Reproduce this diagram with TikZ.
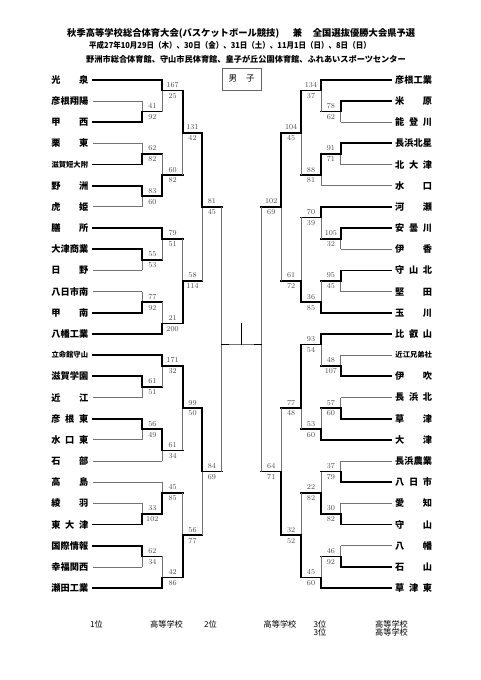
\documentclass[tikz,border=0pt]{standalone}
\usepackage{fontspec}
\newfontfamily\jp{Noto Sans CJK JP}
\newcommand\LA{142.3}\newcommand\LB{162.3}\newcommand\LC{182.8}\newcommand\LD{202.2}\newcommand\LE{221.7}
\newcommand\RA{340.8}\newcommand\RB{321.0}\newcommand\RC{301.0}\newcommand\RD{281.2}\newcommand\RE{261.3}
\newcommand\smallname{\fontsize{7.3}{8}\selectfont}
% match: 1 name, 2 xin, 3 xout, 4 ru, 5 rl, 6 ro, 7 su, 8 sl, 9 winner u/l
\newcommand\mt[9]{%
  \if#9u\def\mtU{thk}\def\mtL{thn}\else\def\mtU{thn}\def\mtL{thk}\fi
  \draw[\mtU] ({#2},{yy(#4)}) -- ({#2},{yy(#6)});
  \draw[\mtL] ({#2},{yy(#6)}) -- ({#2},{yy(#5)});
  \draw[thk] ({#2},{yy(#6)}) -- ({#3},{yy(#6)});
  \node[sc] (#1u) at ({(#2+#3)/2},{yy(#6)-5.5}) {#7};
  \node[sc] (#1l) at ({(#2+#3)/2},{yy(#6)+5.4}) {#8};
}
\newcommand\tmL[5]{%
  \node[nmL] (#1) at (88.5,{yy(#2)}) {\makebox[37pt]{#5}};
  \draw[#4] (93,{yy(#2)}) -- ({#3},{yy(#2)});
}
\newcommand\tmR[5]{%
  \node[nmR] (#1) at (395,{yy(#2)}) {\makebox[37pt]{#5}};
  \draw[#4] (391.5,{yy(#2)}) -- ({#3},{yy(#2)});
}
\begin{document}
\begin{tikzpicture}[x=1pt,y=-1pt,
  declare function={yy(\q)=79.8+21.18*\q;},
  thk/.style={line width=1.7pt,black,line cap=rect},
  thn/.style={line width=0.8pt,black!55},
  sc/.style={inner sep=0pt,text=black!70,font=\fontsize{7.6}{8}\selectfont},
  nmL/.style={anchor=east,inner sep=0pt,font=\jp\bfseries\fontsize{9.2}{10}\selectfont},
  nmR/.style={anchor=west,inner sep=0pt,font=\jp\bfseries\fontsize{9.2}{10}\selectfont},
  hd/.style={inner sep=0pt,font=\jp\bfseries},
  ft/.style={inner sep=0pt,font=\jp\fontsize{8.2}{9}\selectfont},
]
\fill[white] (0,0) rectangle (481,680);
\useasboundingbox (0,0) rectangle (481,680);

% header
\node[hd,anchor=west] (title1) at (67,33) {\fontsize{9.3}{10}\selectfont 秋季高等学校総合体育大会(バスケットボール競技)};
\node[hd] (title2) at (297.5,33) {\fontsize{9.3}{10}\selectfont 兼};
\node[hd,anchor=west] (title3) at (312.7,33) {\fontsize{9.3}{10}\selectfont 全国選抜優勝大会県予選};
\node[hd,anchor=west] (date) at (89,45.5) {\scalebox{0.915}[1]{\fontsize{8.2}{9}\selectfont 平成27年10月29日（木）、30日（金）、31日（土）、11月1日（日）、8日（日）}};
\node[hd,anchor=west] (venue) at (86,59.5) {\fontsize{8.2}{9}\selectfont 野洲市総合体育館、守山市民体育館、皇子が丘公園体育館、ふれあいスポーツセンター};
\node[draw=black!60,line width=0.6pt,minimum width=39.7pt,minimum height=22pt,inner sep=0pt,font=\jp\fontsize{8.5}{9}\selectfont] (box) at (241.7,79) {\makebox[26pt]{男\hfill 子}};

% left teams
\tmL{t0}{0}{\LB}{thk}{光\hfill 泉}
\tmL{t1}{1}{\LA}{thn}{彦\hfill 根\hfill 翔\hfill 陽}
\tmL{t2}{2}{\LA}{thk}{甲\hfill 西}
\tmL{t3}{3}{\LA}{thn}{栗\hfill 東}
\tmL{t4}{4}{\LA}{thk}{\smallname 滋賀短大附}
\tmL{t5}{5}{\LA}{thk}{野\hfill 洲}
\tmL{t6}{6}{\LA}{thn}{虎\hfill 姫}
\tmL{t7}{7}{\LB}{thk}{膳\hfill 所}
\tmL{t8}{8}{\LA}{thk}{大\hfill 津\hfill 商\hfill 業}
\tmL{t9}{9}{\LA}{thn}{日\hfill 野}
\tmL{t10}{10}{\LA}{thn}{八\hfill 日\hfill 市\hfill 南}
\tmL{t11}{11}{\LA}{thk}{甲\hfill 南}
\tmL{t12}{12}{\LB}{thk}{八\hfill 幡\hfill 工\hfill 業}
\tmL{t13}{13}{\LB}{thk}{\smallname 立命館守山}
\tmL{t14}{14}{\LA}{thk}{滋\hfill 賀\hfill 学\hfill 園}
\tmL{t15}{15}{\LA}{thn}{近\hfill 江}
\tmL{t16}{16}{\LA}{thk}{彦\hfill 根\hfill 東}
\tmL{t17}{17}{\LA}{thn}{水\hfill 口\hfill 東}
\tmL{t18}{18}{\LB}{thn}{石\hfill 部}
\tmL{t19}{19}{\LB}{thn}{高\hfill 島}
\tmL{t20}{20}{\LA}{thn}{綾\hfill 羽}
\tmL{t21}{21}{\LA}{thk}{東\hfill 大\hfill 津}
\tmL{t22}{22}{\LA}{thk}{国\hfill 際\hfill 情\hfill 報}
\tmL{t23}{23}{\LA}{thn}{幸\hfill 福\hfill 関\hfill 西}
\tmL{t24}{24}{\LB}{thk}{瀬\hfill 田\hfill 工\hfill 業}

% right teams
\tmR{u0}{0}{\RB}{thk}{彦\hfill 根\hfill 工\hfill 業}
\tmR{u1}{1}{\RA}{thk}{米\hfill 原}
\tmR{u2}{2}{\RA}{thn}{能\hfill 登\hfill 川}
\tmR{u3}{3}{\RA}{thk}{長\hfill 浜\hfill 北\hfill 星}
\tmR{u4}{4}{\RA}{thn}{北\hfill 大\hfill 津}
\tmR{u5}{5}{\RB}{thn}{水\hfill 口}
\tmR{u6}{6}{\RB}{thk}{河\hfill 瀬}
\tmR{u7}{7}{\RA}{thk}{安\hfill 曇\hfill 川}
\tmR{u8}{8}{\RA}{thn}{伊\hfill 香}
\tmR{u9}{9}{\RA}{thk}{守\hfill 山\hfill 北}
\tmR{u10}{10}{\RA}{thn}{堅\hfill 田}
\tmR{u11}{11}{\RB}{thk}{玉\hfill 川}
\tmR{u12}{12}{\RB}{thk}{比\hfill 叡\hfill 山}
\tmR{u13}{13}{\RA}{thn}{\smallname 近江兄弟社}
\tmR{u14}{14}{\RA}{thk}{伊\hfill 吹}
\tmR{u15}{15}{\RA}{thn}{長\hfill 浜\hfill 北}
\tmR{u16}{16}{\RA}{thk}{草\hfill 津}
\tmR{u17}{17}{\RB}{thk}{大\hfill 津}
\tmR{u18}{18}{\RA}{thn}{長\hfill 浜\hfill 農\hfill 業}
\tmR{u19}{19}{\RA}{thk}{八\hfill 日\hfill 市}
\tmR{u20}{20}{\RA}{thn}{愛\hfill 知}
\tmR{u21}{21}{\RA}{thk}{守\hfill 山}
\tmR{u22}{22}{\RA}{thn}{八\hfill 幡}
\tmR{u23}{23}{\RA}{thk}{石\hfill 山}
\tmR{u24}{24}{\RB}{thk}{草\hfill 津\hfill 東}

% left matches
\mt{A1}{\LA}{\LB}{1}{2}{1.5}{41}{92}{l}
\mt{A2}{\LB}{\LC}{0}{1.5}{0.5}{167}{25}{u}
\mt{A3}{\LA}{\LB}{3}{4}{3.5}{62}{82}{l}
\mt{A4}{\LA}{\LB}{5}{6}{5.5}{83}{60}{u}
\mt{A5}{\LB}{\LC}{3.5}{5.5}{4.5}{60}{82}{l}
\mt{A6}{\LC}{\LD}{0.5}{4.5}{2.5}{131}{42}{u}
\mt{B1}{\LA}{\LB}{8}{9}{8.5}{55}{53}{u}
\mt{B2}{\LB}{\LC}{7}{8.5}{7.5}{79}{51}{u}
\mt{B3}{\LA}{\LB}{10}{11}{10.5}{77}{92}{l}
\mt{B4}{\LB}{\LC}{10.5}{12}{11.5}{21}{200}{l}
\mt{B5}{\LC}{\LD}{7.5}{11.5}{9.5}{58}{114}{l}
\mt{QA}{\LD}{\LE}{2.5}{9.5}{6}{81}{45}{u}
\mt{C1}{\LA}{\LB}{14}{15}{14.5}{61}{51}{u}
\mt{C2}{\LB}{\LC}{13}{14.5}{13.5}{171}{32}{u}
\mt{C3}{\LA}{\LB}{16}{17}{16.5}{56}{49}{u}
\mt{C4}{\LB}{\LC}{16.5}{18}{17.5}{61}{34}{u}
\mt{C5}{\LC}{\LD}{13.5}{17.5}{15.5}{99}{50}{u}
\mt{D1}{\LA}{\LB}{20}{21}{20.5}{33}{102}{l}
\mt{D2}{\LB}{\LC}{19}{20.5}{19.5}{45}{85}{l}
\mt{D3}{\LA}{\LB}{22}{23}{22.5}{62}{34}{u}
\mt{D4}{\LB}{\LC}{22.5}{24}{23.5}{42}{86}{l}
\mt{D5}{\LC}{\LD}{19.5}{23.5}{21.5}{56}{77}{l}
\mt{QB}{\LD}{\LE}{15.5}{21.5}{18.5}{84}{69}{u}

% right matches
\mt{E1}{\RA}{\RB}{1}{2}{1.5}{78}{62}{u}
\mt{E2}{\RB}{\RC}{0}{1.5}{0.5}{134}{37}{u}
\mt{E3}{\RA}{\RB}{3}{4}{3.5}{91}{71}{u}
\mt{E4}{\RB}{\RC}{3.5}{5}{4.5}{88}{81}{u}
\mt{E5}{\RC}{\RD}{0.5}{4.5}{2.5}{104}{45}{u}
\mt{F1}{\RA}{\RB}{7}{8}{7.5}{105}{32}{u}
\mt{F2}{\RB}{\RC}{6}{7.5}{6.5}{70}{39}{u}
\mt{F3}{\RA}{\RB}{9}{10}{9.5}{95}{45}{u}
\mt{F4}{\RB}{\RC}{9.5}{11}{10.5}{36}{85}{l}
\mt{F5}{\RC}{\RD}{6.5}{10.5}{9.5}{61}{72}{l}
\mt{QC}{\RD}{\RE}{2.5}{9.5}{6}{102}{69}{u}
\mt{G1}{\RA}{\RB}{13}{14}{13.5}{48}{107}{l}
\mt{G2}{\RB}{\RC}{12}{13.5}{12.5}{93}{54}{u}
\mt{G3}{\RA}{\RB}{15}{16}{15.5}{57}{60}{l}
\mt{G4}{\RB}{\RC}{15.5}{17}{16.5}{53}{60}{l}
\mt{G5}{\RC}{\RD}{12.5}{16.5}{15.5}{77}{48}{u}
\mt{H1}{\RA}{\RB}{18}{19}{18.5}{37}{79}{l}
\mt{H2}{\RA}{\RB}{20}{21}{20.5}{30}{82}{l}
\mt{H3}{\RB}{\RC}{18.5}{20.5}{19.5}{22}{82}{l}
\mt{H4}{\RA}{\RB}{22}{23}{22.5}{46}{92}{l}
\mt{H5}{\RB}{\RC}{22.5}{24}{23.5}{45}{60}{l}
\mt{H6}{\RC}{\RD}{19.5}{23.5}{21.5}{32}{52}{l}
\mt{QD}{\RD}{\RE}{15.5}{21.5}{18.5}{64}{71}{l}

% semifinals and final
\draw[thn] ({\LE},{yy(6)}) -- ({\LE},{yy(18.5)});
\draw[thn] ({\RE},{yy(6)}) -- ({\RE},{yy(18.5)});
\draw[thn] ({\LE},{yy(12.5)}) -- ({\RE},{yy(12.5)});
\draw[thk] ({\LE},{yy(12.5)}) -- ({\LE+6},{yy(12.5)});
\draw[thk] ({\RE-6},{yy(12.5)}) -- ({\RE},{yy(12.5)});
\coordinate (champ) at (241.5,{yy(11.5)});
\draw[line width=1.3pt] (champ) -- (241.5,{yy(12.5)});

% footer
\node[ft] (p1) at (96.5,624.3) {1位};
\node[ft] (s1) at (166.5,624.3) {高等学校};
\node[ft] (p2) at (210.5,624.3) {2位};
\node[ft] (s2) at (280,624.3) {高等学校};
\node[ft] (p3a) at (320,624.3) {3位};
\node[ft] (p3b) at (320,632.8) {3位};
\node[ft] (s3a) at (391.5,624.3) {高等学校};
\node[ft] (s3b) at (391.5,632.8) {高等学校};
\end{tikzpicture}
\end{document}
